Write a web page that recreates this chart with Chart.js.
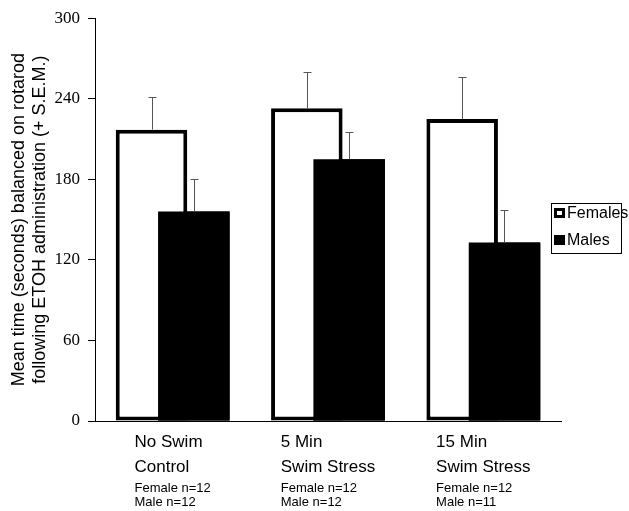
<!DOCTYPE html>
<html>
<head>
<meta charset="utf-8">
<script src="https://cdn.jsdelivr.net/npm/chart.js@4.4.1/dist/chart.umd.min.js"></script>
<style>
  html, body { margin: 0; padding: 0; background: #ffffff; }
  #wrap { width: 629px; height: 511px; }
</style>
</head>
<body>
<div id="wrap"><canvas id="c" width="629" height="511"></canvas></div>
<script>
// ---- data ----
const categoryLines = [["No Swim", "Control"], ["5 Min", "Swim Stress"], ["15 Min", "Swim Stress"]];
const femaleN = [12, 12, 12];
const maleN = [12, 12, 11];
const seriesNames = ["Females", "Males"];
const femaleMeans = [217, 233, 225];
const femaleSem = [24, 27, 31];
const maleMeans = [156, 195, 133];
const maleSem = [24, 20, 24];
const yTickValues = [0, 60, 120, 180, 240, 300];
const yTitle = ["Mean time (seconds) balanced on rotarod", "following ETOH administration (+ S.E.M.)"];

const semByDataset = [femaleSem, maleSem];
const SANS = "'Liberation Sans', Arial, sans-serif";
const SERIF = "'Liberation Serif', 'Times New Roman', serif";

const errorBarPlugin = {
  id: 'errorBars',
  afterDatasetsDraw(chart) {
    const ctx = chart.ctx;
    const yScale = chart.scales.y;
    // draw the male bars again so they sit on top of the female bars
    chart.getDatasetMeta(1).controller.draw();
    ctx.save();
    ctx.strokeStyle = '#555555';
    ctx.lineWidth = 1;
    chart.data.datasets.forEach((ds, di) => {
      const meta = chart.getDatasetMeta(di);
      meta.data.forEach((bar, i) => {
        const top = yScale.getPixelForValue(ds.data[i] + semByDataset[di][i]);
        const x = Math.round(bar.x) + 0.5;
        ctx.beginPath();
        ctx.moveTo(x, bar.y);
        ctx.lineTo(x, Math.round(top) + 0.5);
        ctx.moveTo(x - 4, Math.round(top) + 0.5);
        ctx.lineTo(x + 4, Math.round(top) + 0.5);
        ctx.stroke();
      });
    });
    ctx.restore();
  }
};

const labelsPlugin = {
  id: 'catLabels',
  afterDraw(chart) {
    const ctx = chart.ctx;
    const xScale = chart.scales.x;
    const base = chart.chartArea.bottom;
    ctx.save();
    ctx.fillStyle = '#000000';
    ctx.textAlign = 'left';
    ctx.textBaseline = 'alphabetic';
    categoryLines.forEach((lines, i) => {
      const small = ["Female n=" + femaleN[i], "Male n=" + maleN[i]];
      ctx.font = "17px " + SANS;
      let w = Math.max(...lines.map(t => ctx.measureText(t).width));
      ctx.font = "13px " + SANS;
      w = Math.max(w, ...small.map(t => ctx.measureText(t).width));
      const left = xScale.getPixelForValue(i) - w / 2;
      ctx.font = "17px " + SANS;
      ctx.fillText(lines[0], left, base + 26);
      ctx.fillText(lines[1], left, base + 51);
      ctx.font = "13px " + SANS;
      ctx.fillText(small[0], left, base + 71);
      ctx.fillText(small[1], left, base + 85);
    });

    // legend
    const bx = 551.5, by = 203.5, bw = 70, bh = 50;
    ctx.strokeStyle = '#000000';
    ctx.lineWidth = 1;
    ctx.strokeRect(bx, by, bw, bh);
    ctx.font = "16px " + SANS;
    ctx.textBaseline = 'middle';
    const rows = [213, 240];
    chart.data.datasets.forEach((ds, di) => {
      const cy = rows[di];
      ctx.fillStyle = '#000000';
      ctx.fillRect(554, cy - 5, 11, 10);
      if (di === 0) {
        ctx.fillStyle = '#ffffff';
        ctx.fillRect(557, cy - 2, 5, 4);
      }
      ctx.fillStyle = '#000000';
      ctx.fillText(ds.label, 567, cy + 1);
    });
    ctx.restore();
  }
};

new Chart(document.getElementById('c'), {
  type: 'bar',
  data: {
    labels: categoryLines.map(l => l.join(' ')),
    datasets: [
      {
        label: seriesNames[0],
        data: femaleMeans,
        backgroundColor: '#ffffff',
        borderColor: '#000000',
        borderWidth: 4,
        borderSkipped: false,
        categoryPercentage: 0.545,
        barPercentage: 1.69
      },
      {
        label: seriesNames[1],
        data: maleMeans,
        backgroundColor: '#000000',
        borderColor: '#000000',
        borderWidth: 0,
        categoryPercentage: 0.545,
        barPercentage: 1.69
      }
    ]
  },
  options: {
    responsive: false,
    maintainAspectRatio: false,
    devicePixelRatio: 1,
    animation: false,
    layout: { padding: { top: 16, right: 68, left: 0, bottom: 0 } },
    plugins: {
      legend: { display: false },
      tooltip: { enabled: false }
    },
    scales: {
      x: {
        ticks: { display: false },
        grid: { display: false },
        border: { display: true, color: '#000000', width: 1 },
        afterFit(s) { s.height = 90; }
      },
      y: {
        min: 0,
        max: 300,
        afterBuildTicks(s) { s.ticks = yTickValues.map(v => ({ value: v })); },
        ticks: {
          color: '#000000',
          font: { family: SERIF, size: 17 },
          padding: 8
        },
        grid: {
          display: true,
          drawOnChartArea: false,
          drawTicks: true,
          tickLength: 7,
          color: '#000000'
        },
        border: { display: true, color: '#000000', width: 1 },
        title: {
          display: true,
          text: yTitle,
          color: '#000000',
          font: { family: SANS, size: 18, lineHeight: 1.2 },
          padding: { top: 8, bottom: 0 }
        },
        afterFit(s) { s.width = 95; }
      }
    }
  },
  plugins: [errorBarPlugin, labelsPlugin]
});
</script>
</body>
</html>
